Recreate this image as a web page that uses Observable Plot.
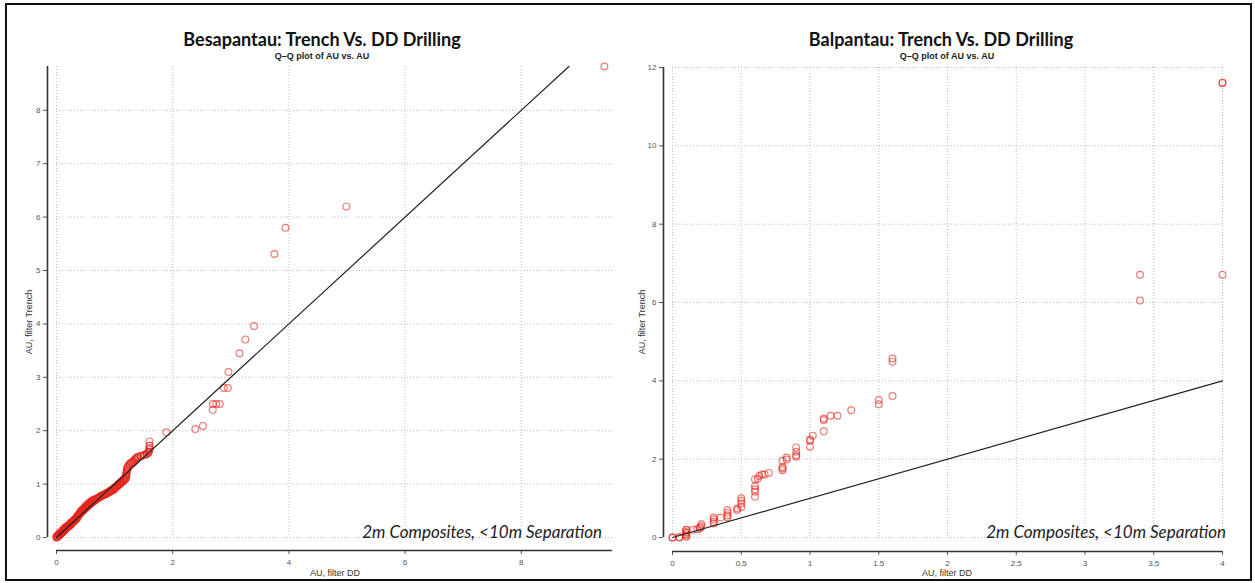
<!DOCTYPE html>
<html>
<head>
<meta charset="utf-8">
<script src="https://cdn.jsdelivr.net/npm/d3@7"></script>
<script src="https://cdn.jsdelivr.net/npm/@observablehq/plot@0.6"></script>
<style>
  html, body { margin: 0; padding: 0; background: #fff; }
  #page { position: relative; width: 1255px; height: 583px; overflow: hidden; font-family: "Liberation Sans", Arial, sans-serif; }
  #frame { position: absolute; left: 5px; top: 3px; width: 1243px; height: 574px; border: 2px solid #111; pointer-events: none; }
  .panel { position: absolute; top: 0; }
  .title { position: absolute; font-family: Lato, sans-serif; font-weight: 700; font-size: 18px; line-height: 18px; color: #111; transform: translateX(-50%); white-space: nowrap; }
  .subtitle { position: absolute; font-family: "Liberation Sans", Arial, sans-serif; font-weight: 700; font-size: 9px; line-height: 9px; color: #222; transform: translateX(-50%); white-space: nowrap; }
  .xlab { position: absolute; font-size: 9px; line-height: 9px; color: #333; transform: translateX(-50%); white-space: nowrap; }
  .ylab { position: absolute; font-size: 9px; line-height: 9px; color: #333; transform: translate(-50%, -50%) rotate(-90deg); white-space: nowrap; }
  .note { position: absolute; font-family: Lato, sans-serif; font-style: italic; font-size: 17px; line-height: 17px; color: #222; white-space: nowrap; transform: translateX(-100%); }
</style>
</head>
<body>
<div id="page">
  <div id="left" class="panel" style="left:0px"></div>
  <div id="right" class="panel" style="left:620px"></div>

  <div class="title" style="left:322px; top:30px">Besapantau: Trench Vs. DD Drilling</div>
  <div class="subtitle" style="left:322px; top:52px">Q–Q plot of AU vs. AU</div>
  <div class="title" style="left:941px; top:30px">Balpantau: Trench Vs. DD Drilling</div>
  <div class="subtitle" style="left:947px; top:52px">Q–Q plot of AU vs. AU</div>

  <div class="xlab" style="left:335px; top:569px">AU, filter DD</div>
  <div class="xlab" style="left:947px; top:569px">AU, filter DD</div>
  <div class="ylab" style="left:29px; top:322px">AU, filter Trench</div>
  <div class="ylab" style="left:642px; top:322px">AU, filter Trench</div>

  <div class="note" style="left:602px; top:523px">2m Composites, &lt;10m Separation</div>
  <div class="note" style="left:1226px; top:523px">2m Composites, &lt;10m Separation</div>

  <div id="frame"></div>
</div>
<script>
// Besapantau: paired quantiles of AU (DD drilling vs. trench)
const besaDD = [0, 0, 0, 0.01, 0.02, 0.02, 0.03, 0.04, 0.04, 0.05, 0.05, 0.05, 0.06, 0.07, 0.07, 0.08, 0.09, 0.10, 0.10, 0.10,
  0.11, 0.12, 0.12, 0.13, 0.14, 0.15, 0.15, 0.15, 0.16, 0.17, 0.17, 0.18, 0.19, 0.20, 0.20, 0.20, 0.21, 0.22, 0.22, 0.23,
  0.24, 0.25, 0.25, 0.25, 0.26, 0.27, 0.27, 0.28, 0.29, 0.30, 0.30, 0.30, 0.31, 0.32, 0.32, 0.33, 0.34, 0.35, 0.35, 0.35,
  0.36, 0.37, 0.37, 0.38, 0.39, 0.40, 0.40, 0.40, 0.42, 0.42, 0.43, 0.44, 0.45, 0.45, 0.46, 0.47, 0.47, 0.48, 0.50, 0.50,
  0.50, 0.51, 0.52, 0.53, 0.54, 0.55, 0.55, 0.56, 0.57, 0.57, 0.59, 0.60, 0.60, 0.60, 0.62, 0.62, 0.64, 0.65, 0.65, 0.67,
  0.67, 0.69, 0.70, 0.71, 0.72, 0.73, 0.75, 0.75, 0.77, 0.77, 0.79, 0.80, 0.81, 0.82, 0.83, 0.85, 0.85, 0.87, 0.87, 0.89,
  0.90, 0.91, 0.92, 0.93, 0.95, 0.95, 0.97, 0.97, 0.99, 1.00, 1.00, 1.01, 1.02, 1.03, 1.05, 1.05, 1.05, 1.07, 1.07, 1.09,
  1.10, 1.10, 1.11, 1.12, 1.13, 1.15, 1.15, 1.15, 1.17, 1.17, 1.19, 1.20, 1.20, 1.20, 1.20, 1.20, 1.21, 1.21, 1.21, 1.22,
  1.22, 1.22, 1.24, 1.25, 1.26, 1.28, 1.29, 1.30, 1.33, 1.33, 1.35, 1.36, 1.38, 1.38, 1.40, 1.40, 1.45, 1.45, 1.50, 1.52,
  1.55, 1.55, 1.58, 1.58, 1.59, 1.60, 1.60, 1.60, 1.60, 1.60, 1.89, 2.39, 2.52, 2.69, 2.69, 2.75, 2.81, 2.88, 2.95, 2.96,
  3.15, 3.25, 3.40, 3.75, 3.94, 4.99, 9.43];
const besaTrench = [0, 0, 0.02, 0.01, 0.02, 0.04, 0.03, 0.04, 0.04, 0.05, 0.06, 0.09, 0.05, 0.06, 0.10, 0.08, 0.09, 0.10, 0.10, 0.13,
  0.11, 0.12, 0.16, 0.13, 0.14, 0.15, 0.16, 0.19, 0.16, 0.18, 0.20, 0.19, 0.20, 0.20, 0.20, 0.23, 0.21, 0.22, 0.25, 0.23,
  0.24, 0.25, 0.25, 0.28, 0.27, 0.28, 0.30, 0.29, 0.30, 0.30, 0.31, 0.33, 0.32, 0.33, 0.35, 0.34, 0.36, 0.35, 0.37, 0.39,
  0.38, 0.40, 0.42, 0.42, 0.43, 0.44, 0.45, 0.47, 0.46, 0.50, 0.48, 0.49, 0.50, 0.53, 0.51, 0.52, 0.55, 0.53, 0.55, 0.56,
  0.59, 0.56, 0.61, 0.58, 0.59, 0.61, 0.64, 0.61, 0.62, 0.66, 0.63, 0.65, 0.66, 0.68, 0.66, 0.70, 0.68, 0.69, 0.70, 0.70,
  0.72, 0.72, 0.73, 0.73, 0.75, 0.75, 0.76, 0.76, 0.78, 0.78, 0.79, 0.79, 0.80, 0.80, 0.81, 0.81, 0.82, 0.83, 0.84, 0.85,
  0.84, 0.86, 0.86, 0.88, 0.87, 0.89, 0.89, 0.91, 0.92, 0.90, 0.93, 0.94, 0.95, 0.95, 0.96, 0.97, 0.99, 0.99, 1.00, 1.00,
  1.01, 1.04, 1.02, 1.05, 1.04, 1.06, 1.06, 1.09, 1.08, 1.10, 1.10, 1.12, 1.14, 1.16, 1.18, 1.20, 1.22, 1.24, 1.26, 1.28,
  1.30, 1.32, 1.34, 1.37, 1.37, 1.40, 1.40, 1.41, 1.42, 1.44, 1.47, 1.45, 1.48, 1.50, 1.50, 1.51, 1.52, 1.53, 1.54, 1.55,
  1.56, 1.57, 1.58, 1.60, 1.61, 1.65, 1.66, 1.72, 1.72, 1.80, 1.97, 2.03, 2.09, 2.39, 2.50, 2.50, 2.50, 2.80, 2.80, 3.10,
  3.45, 3.71, 3.96, 5.31, 5.80, 6.20, 8.82];

// Balpantau: paired quantiles of AU (DD drilling vs. trench)
const balDD = [0, 0, 0.05, 0.05, 0.1, 0.1, 0.1, 0.1, 0.1, 0.1, 0.1, 0.15, 0.18, 0.2, 0.2, 0.21, 0.21, 0.3, 0.3, 0.3,
  0.3, 0.35, 0.4, 0.4, 0.4, 0.4, 0.47, 0.47, 0.5, 0.5, 0.5, 0.5, 0.6, 0.6, 0.6, 0.6, 0.6, 0.62, 0.63, 0.65,
  0.67, 0.7, 0.8, 0.8, 0.8, 0.8, 0.83, 0.83, 0.9, 0.9, 0.9, 0.9, 1.0, 1.0, 1.0, 1.02, 1.1, 1.1, 1.1, 1.15,
  1.2, 1.3, 1.5, 1.5, 1.6, 1.6, 1.6, 3.4, 3.4, 4.0, 4.0, 4.0];
const balTrench = [0, 0, 0, 0.01, 0.02, 0.05, 0.085, 0.12, 0.14, 0.19, 0.2, 0.2, 0.21, 0.23, 0.26, 0.29, 0.34, 0.36, 0.40, 0.46,
  0.51, 0.51, 0.52, 0.57, 0.63, 0.70, 0.70, 0.74, 0.78, 0.87, 0.94, 1.0, 1.04, 1.17, 1.23, 1.31, 1.49, 1.50, 1.57, 1.61,
  1.61, 1.65, 1.72, 1.76, 1.80, 1.96, 1.99, 2.04, 2.06, 2.10, 2.19, 2.30, 2.32, 2.47, 2.50, 2.60, 2.71, 3.0, 3.04, 3.11,
  3.11, 3.25, 3.40, 3.51, 3.61, 4.49, 4.57, 6.05, 6.71, 6.71, 11.6, 11.62];

// Axis ticks
const besaXTicks = [0, 2, 4, 6, 8];
const besaYTicks = [0, 1, 2, 3, 4, 5, 6, 7, 8];
const balXTicks = [0, 0.5, 1, 1.5, 2, 2.5, 3, 3.5, 4];
const balYTicks = [0, 2, 4, 6, 8, 10, 12];

const fmt = d3.format("~g");

function qqPlot({dd, trench, xDomain, yDomain, xTicks, yTicks, width, marginLeft, marginRight, marginTop, marginBottom, insetLeft, insetBottom}) {
  const pts = dd.map((d, i) => ({dd: d, trench: trench[i]}));
  const diag = [0, Math.min(xDomain[1], yDomain[1])];
  const grid = {stroke: "#bdbdbd", strokeOpacity: 1, strokeDasharray: "1,2", strokeWidth: 1};
  const spine = {stroke: "#333", strokeWidth: 1.6};
  const svg = Plot.plot({
    width, height: 583,
    marginLeft, marginRight, marginTop, marginBottom,
    x: {domain: xDomain, insetLeft, axis: null},
    y: {domain: yDomain, insetBottom, axis: null},
    style: {background: "transparent", fontFamily: "'Liberation Sans', Arial, sans-serif", overflow: "visible"},
    marks: [
      Plot.gridX(xTicks, {...grid, insetBottom}),
      Plot.gridY(yTicks, {...grid, insetLeft}),
      Plot.axisX(xTicks, {anchor: "bottom", tickSize: 4, tickPadding: 5, color: "#555", fontSize: 8, label: null, tickFormat: fmt}),
      Plot.axisY(yTicks, {anchor: "left", tickSize: 4, tickPadding: 3, color: "#555", fontSize: 8, label: null, tickFormat: fmt}),
      // vertical spine, set off to the left of the data area
      Plot.ruleX([xDomain[0]], {dx: -insetLeft, insetBottom, ...spine}),
      Plot.dot(pts, {x: "dd", y: "trench", r: 3.4, stroke: "#e2231a", strokeOpacity: 0.6, strokeWidth: 1.2, fill: "none"}),
      Plot.line(diag, {x: d => d, y: d => d, stroke: "#222", strokeWidth: 1.2})
    ]
  });
  // horizontal spine, placed with the plot's own scales below the data area
  const sx = svg.scale("x"), sy = svg.scale("y");
  d3.select(svg).append("line")
    .attr("x1", sx.apply(xDomain[0]))
    .attr("x2", sx.apply(xDomain[1]))
    .attr("y1", sy.apply(yDomain[0]) + insetBottom + 0.5)
    .attr("y2", sy.apply(yDomain[0]) + insetBottom + 0.5)
    .attr("stroke", spine.stroke)
    .attr("stroke-width", spine.strokeWidth);
  return svg;
}

document.getElementById("left").append(qqPlot({
  dd: besaDD, trench: besaTrench,
  xDomain: [0, 9.57], yDomain: [0, 8.82],
  xTicks: besaXTicks, yTicks: besaYTicks,
  width: 625, marginLeft: 47, marginRight: 13, marginTop: 66, marginBottom: 33,
  insetLeft: 9, insetBottom: 13
}));

document.getElementById("right").append(qqPlot({
  dd: balDD, trench: balTrench,
  xDomain: [0, 4], yDomain: [0, 12],
  xTicks: balXTicks, yTicks: balYTicks,
  width: 635, marginLeft: 43, marginRight: 33, marginTop: 67, marginBottom: 32,
  insetLeft: 9, insetBottom: 14
}));
</script>
</body>
</html>
